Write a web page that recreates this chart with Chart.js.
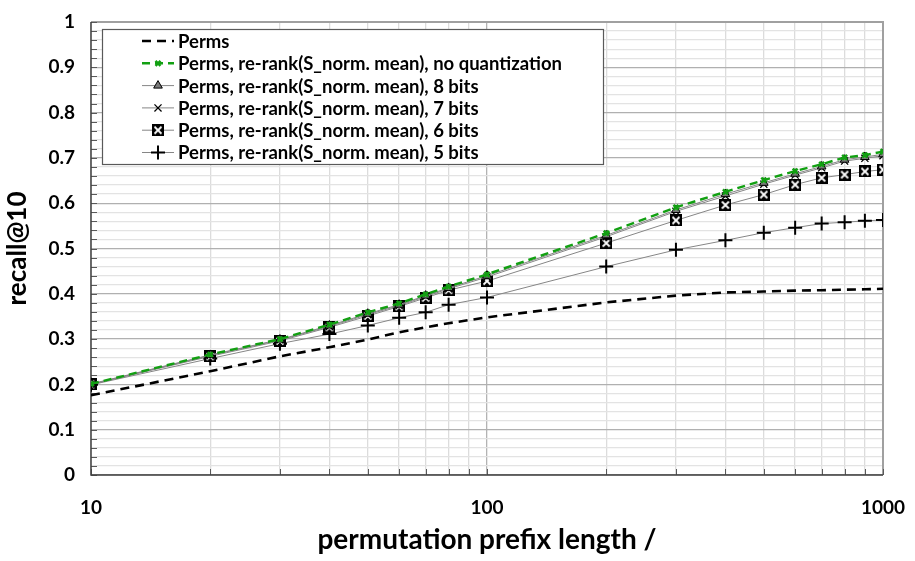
<!DOCTYPE html>
<html>
<head>
<meta charset="utf-8">
<script src="https://cdn.jsdelivr.net/npm/chart.js@4"></script>
<style>
html,body{margin:0;padding:0;background:#fff;}
#wrap{width:915px;height:561px;position:relative;}
</style>
</head>
<body>
<div id="wrap"><canvas id="c" width="915" height="561"></canvas></div>
<script>
const xValues = [10,20,30,40,50,60,70,80,100,200,300,400,500,600,700,800,900,1000];
const perms   = [0.176,0.229,0.262,0.282,0.299,0.315,0.326,0.335,0.348,0.381,0.396,0.403,0.405,0.407,0.408,0.409,0.410,0.411];
const noQuant = [0.201,0.266,0.300,0.332,0.359,0.379,0.399,0.416,0.443,0.534,0.591,0.625,0.651,0.671,0.686,0.701,0.706,0.714];
const bits8   = [0.201,0.265,0.299,0.330,0.356,0.376,0.396,0.413,0.440,0.529,0.585,0.620,0.645,0.665,0.681,0.696,0.702,0.708];
const bits7   = [0.200,0.264,0.298,0.328,0.354,0.374,0.394,0.411,0.437,0.526,0.582,0.616,0.642,0.662,0.678,0.693,0.699,0.705];
const bits6   = [0.200,0.262,0.296,0.326,0.351,0.372,0.391,0.408,0.428,0.512,0.562,0.596,0.619,0.641,0.656,0.663,0.670,0.674];
const bits5   = [0.199,0.257,0.290,0.311,0.330,0.347,0.359,0.376,0.392,0.460,0.497,0.518,0.535,0.546,0.555,0.558,0.561,0.563];
const xGridValues = [10,20,30,40,50,60,70,80,90,100,200,300,400,500,600,700,800,900,1000];
const xLabelValues = [10,100,1000];
const seriesNames = [
  'Perms',
  'Perms, re-rank(S_norm. mean), no quantization',
  'Perms, re-rank(S_norm. mean), 8 bits',
  'Perms, re-rank(S_norm. mean), 7 bits',
  'Perms, re-rank(S_norm. mean), 6 bits',
  'Perms, re-rank(S_norm. mean), 5 bits'
];

const FONT = 'Lato, "Liberation Sans", sans-serif';

function boxX(){
  const s = 12, c = document.createElement('canvas');
  c.width = s; c.height = s;
  const g = c.getContext('2d');
  g.fillStyle = '#000'; g.fillRect(0,0,s,s);
  g.strokeStyle = '#fff'; g.lineWidth = 1.8;
  g.beginPath(); g.moveTo(2.5,2.5); g.lineTo(s-2.5,s-2.5); g.moveTo(s-2.5,2.5); g.lineTo(2.5,s-2.5); g.stroke();
  return c;
}
const boxImg = boxX();

function pts(arr){ return xValues.map((x,i)=>({x:x,y:arr[i]})); }

const GRAYLINE = '#868686';
const GREEN = '#12a012';

const datasets = [
  {label: seriesNames[0], data: pts(perms), borderColor:'#000', borderWidth:2.6, borderDash:[9,6], pointRadius:0, pointStyle:false},
  {label: seriesNames[1], data: pts(noQuant), borderColor:GREEN, borderWidth:2.4, borderDash:[8,5], pointStyle:'crossRot', pointRadius:3.5, pointBorderColor:GREEN, pointBackgroundColor:GREEN, pointBorderWidth:2.5},
  {label: seriesNames[2], data: pts(bits8), borderColor:GRAYLINE, borderWidth:1, pointStyle:'triangle', pointRadius:5, pointBorderColor:'#000', pointBackgroundColor:'#7a7a7a', pointBorderWidth:1},
  {label: seriesNames[3], data: pts(bits7), borderColor:GRAYLINE, borderWidth:1, pointStyle:'crossRot', pointRadius:5, pointBorderColor:'#000', pointBackgroundColor:'#000', pointBorderWidth:1.3},
  {label: seriesNames[4], data: pts(bits6), borderColor:GRAYLINE, borderWidth:1, pointStyle:boxImg, pointRadius:6},
  {label: seriesNames[5], data: pts(bits5), borderColor:GRAYLINE, borderWidth:1, pointStyle:'cross', pointRadius:7, pointBorderColor:'#000', pointBackgroundColor:'#000', pointBorderWidth:2}
];

const isMajorY = v => Math.abs(v*10 - Math.round(v*10)) < 1e-6;

const extras = {
  id:'extras',
  beforeDatasetsDraw(chart){
    const {ctx, chartArea:a, scales:{x,y}} = chart;
    ctx.save();
    ctx.strokeStyle = '#a0a0a0'; ctx.lineWidth = 2;
    ctx.beginPath(); ctx.moveTo(a.left, a.top); ctx.lineTo(a.right, a.top); ctx.lineTo(a.right, a.bottom); ctx.stroke();
    ctx.strokeStyle = '#595959'; ctx.lineWidth = 1;
    ctx.beginPath();
    y.ticks.forEach(t=>{ const py = Math.round(y.getPixelForValue(t.value))+0.5; ctx.moveTo(a.left, py); ctx.lineTo(a.left+6, py); });
    x.ticks.forEach(t=>{ const px = Math.round(x.getPixelForValue(t.value))+0.5; ctx.moveTo(px, a.bottom); ctx.lineTo(px, a.bottom-6); });
    ctx.stroke();
    ctx.strokeStyle = '#404040'; ctx.lineWidth = 1.5;
    ctx.beginPath(); ctx.moveTo(a.left, a.top); ctx.lineTo(a.left, a.bottom); ctx.lineTo(a.right, a.bottom); ctx.stroke();
    ctx.restore();
  },
  afterDraw(chart){
    const {ctx} = chart;
    ctx.save();
    const bx = 102, by = 29, bw = 501, bh = 135;
    ctx.fillStyle = '#fff'; ctx.fillRect(bx, by, bw, bh);
    ctx.strokeStyle = '#595959'; ctx.lineWidth = 1.2; ctx.strokeRect(bx+0.5, by+0.5, bw, bh);
    ctx.textBaseline = 'middle'; ctx.textAlign = 'left';
    chart.data.datasets.forEach((ds, i)=>{
      const ry = 41 + i*22.3;
      ctx.save();
      ctx.strokeStyle = ds.borderColor; ctx.lineWidth = ds.borderWidth;
      ctx.setLineDash(ds.borderDash || []);
      ctx.beginPath(); ctx.moveTo(142, ry); ctx.lineTo(174, ry); ctx.stroke();
      ctx.restore();
      if (ds.pointStyle) {
        ctx.save();
        ctx.setLineDash([]);
        ctx.strokeStyle = ds.pointBorderColor || '#000';
        ctx.fillStyle = ds.pointBackgroundColor || '#000';
        ctx.lineWidth = ds.pointBorderWidth || 1;
        Chart.helpers.drawPoint(ctx, {
          pointStyle: ds.pointStyle, radius: ds.pointRadius, borderWidth: ds.pointBorderWidth || 1, rotation: 0
        }, 158, ry);
        ctx.restore();
      }
      ctx.font = 'bold 18.5px ' + FONT;
      ctx.fillStyle = '#000';
      ctx.fillText(ds.label, 178, ry+1);
    });
    ctx.restore();
  }
};

const chart = new Chart(document.getElementById('c'), {
  type:'line',
  data:{datasets},
  plugins:[extras],
  options:{
    responsive:false,
    animation:false,
    events:[],
    layout:{padding:{left:0, right:32, top:22, bottom:0}},
    plugins:{legend:{display:false}, tooltip:{enabled:false}},
    elements:{line:{tension:0}},
    scales:{
      x:{
        type:'logarithmic', min:10, max:1000,
        afterBuildTicks(scale){ scale.ticks = xGridValues.map(v=>({value:v})); },
        afterFit(scale){ scale.height = 86; scale.paddingLeft = 0; scale.paddingRight = 0; },
        ticks:{autoSkip:false, maxRotation:0, padding:21, color:'#000',
          font:{family:FONT, size:19, weight:'bold'},
          callback:(v)=> xLabelValues.includes(v) ? String(v) : ''},
        grid:{drawTicks:false, color:(c)=> c.tick && c.tick.value===100 ? '#b3b3b3' : '#dcdcdc', lineWidth:1.3},
        border:{display:false},
        title:{display:true, text:'permutation prefix length /', color:'#000',
          font:{family:FONT, size:28, weight:'bold'}, padding:{top:0, bottom:4}}
      },
      y:{
        type:'linear', min:0, max:1,
        ticks:{stepSize:0.02, autoSkip:false, padding:16, color:'#000',
          font:{family:FONT, size:19, weight:'bold'},
          callback:(v)=> isMajorY(v) ? String(Math.round(v*10)/10) : ''},
        afterFit(scale){ scale.width = 91; scale.paddingTop = 0; scale.paddingBottom = 0; },
        grid:{drawTicks:false, color:(c)=> c.tick && isMajorY(c.tick.value) ? '#b0b0b0' : '#e3e3e3', lineWidth:1.3},
        border:{display:false},
        title:{display:true, text:'recall@10', color:'#000',
          font:{family:FONT, size:26, weight:'bold'}, padding:{top:2, bottom:0}}
      }
    }
  }
});
</script>
</body>
</html>
